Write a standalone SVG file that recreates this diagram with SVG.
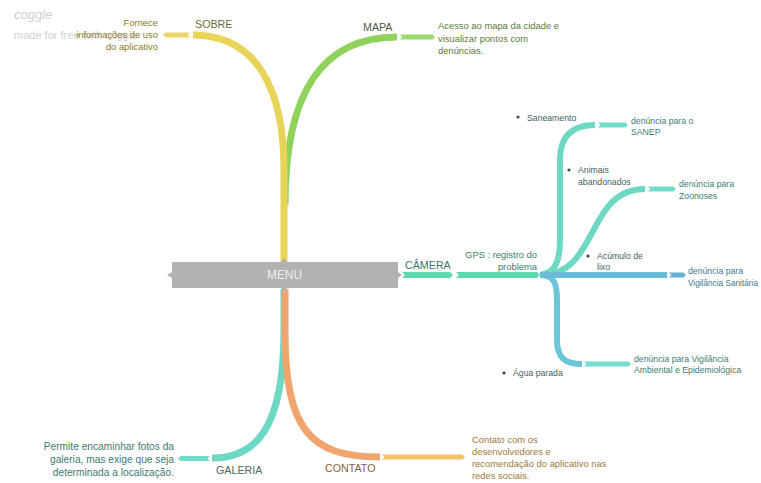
<svg xmlns="http://www.w3.org/2000/svg" width="761" height="483" viewBox="0 0 761 483">
<style>
  text { font-family: "Liberation Sans", Arial, sans-serif; }
  .t { font-size: 9.4px; }
  .s { font-size: 8.7px; }
  .lbl { font-size: 10.7px; }
  .br { fill: none; stroke-linecap: butt; stroke-linejoin: round; }
  .wm { fill: #cfcfcf; }
</style>
<rect width="761" height="483" fill="#ffffff"/>

<g id="watermark">
  <text x="14" y="19" class="wm" font-size="13" font-style="italic">coggle</text>
  <text x="14" y="39" class="wm" font-size="11">made for free with coggle</text>
</g>

<g id="connectors">
  <!-- MAPA -->
  <path class="br" d="M285,205 C285,92 322,37 397,37" stroke="#90d35c" stroke-width="7"/>
  <polygon points="400,34.5 432.5,34.5 435,37 432.5,39.5 400,39.5 402.5,37" fill="#9ad86a"/>
  <!-- SOBRE -->
  <path class="br" d="M284,262 L284,170 C284,88 256,35 193,35" stroke="#e8d459" stroke-width="7"/>
  <polygon points="190,32.5 165.5,32.5 163,35 165.5,37.5 190,37.5 187.5,35" fill="#ead66a"/>
  <!-- GALERIA -->
  <path class="br" d="M284,289 L284,330 C284,430 255,458 212,458" stroke="#6dd8c4" stroke-width="7"/>
  <polygon points="210,456 180.5,456 178,458.5 180.5,461 210,461 207.5,458.5" fill="#72dccb"/>
  <!-- CONTATO -->
  <path class="br" d="M285,289 L285,330 C285,430 310,457 380,457" stroke="#f0a46e" stroke-width="7"/>
  <polygon points="382,454.5 462.5,454.5 465,457 462.5,459.5 382,459.5 384.5,457" fill="#f2c266"/>
  <!-- CÂMERA -->
  <polygon points="402,272 450,272 453,275 450,278 402,278 405,275" fill="#5fd8b2"/>
  <polygon points="456,272 537,272 540,275 537,278 456,278 459,275" fill="#5fd8b2"/>
  <!-- Saneamento -->
  <path class="br" d="M540,275 C555,273 560,262 560,240 L560,160 C560,136 572,125 595,125" stroke="#6dd8c4" stroke-width="6"/>
  <polygon points="598,122.5 625.5,122.5 628,125 625.5,127.5 598,127.5 600.5,125" fill="#72dccb"/>
  <!-- Zoonoses -->
  <path class="br" d="M540,275 C600,275 585,189 645,189" stroke="#6dd8c4" stroke-width="6"/>
  <polygon points="648,186.5 673.5,186.5 676,189 673.5,191.5 648,191.5 650.5,189" fill="#72dccb"/>
  <!-- Ambiental -->
  <path class="br" d="M540,275 C555,275 557,285 557,300 L557,340 C557,358 565,364 582,364" stroke="#6cc6d8" stroke-width="6"/>
  <polygon points="584,361.5 628.5,361.5 631,364 628.5,366.5 584,366.5 586.5,364" fill="#74dcd2"/>
  <!-- Vigilância Sanitária -->
  <path class="br" d="M540,275 L667,275" stroke="#6bbad6" stroke-width="6"/>
  <polygon points="669,272.5 683.5,272.5 686,275 683.5,277.5 669,277.5 671.5,275" fill="#64b0d2"/>
</g>

<g id="menu">
  <path d="M172,262 L281,262 L284,258 L287,262 L398,262 L398,272 L402,275 L398,278 L398,288 L287,288 L284,292 L281,288 L172,288 L172,278 L167,275 L172,272 Z" fill="#b2b2b2"/>
  <text x="284.5" y="279" font-size="11.9" fill="#eeeeee" text-anchor="middle">MENU</text>
</g>

<g id="sobre">
  <text x="195" y="28" class="lbl" fill="#6f6a38">SOBRE</text>
  <text class="t" fill="#8a7a28" text-anchor="end"><tspan x="158" y="26">Fornece</tspan><tspan x="158" y="38">informações de uso</tspan><tspan x="158" y="50">do aplicativo</tspan></text>
</g>

<g id="mapa">
  <text x="363" y="31" class="lbl" fill="#4e5a44">MAPA</text>
  <text class="t" fill="#5a7a3c"><tspan x="438" y="29">Acesso ao mapa da cidade e</tspan><tspan x="438" y="41.5">visualizar pontos com</tspan><tspan x="438" y="54">denúncias.</tspan></text>
</g>

<g id="camera">
  <text x="405" y="269" class="lbl" fill="#3a7566">CÂMERA</text>
</g>

<g id="gps">
  <text class="t" fill="#3b7d68" text-anchor="end"><tspan x="537" y="258">GPS : registro do</tspan><tspan x="537" y="270">problema</tspan></text>
</g>

<g id="saneamento">
  <circle cx="518" cy="117" r="1.6" fill="#2f4f4f"/>
  <text x="527" y="120.5" class="s" fill="#3f5f63">Saneamento</text>
  <text class="s" fill="#3b7d72"><tspan x="631" y="124">denúncia para o</tspan><tspan x="631" y="135">SANEP</tspan></text>
</g>

<g id="zoonoses">
  <circle cx="569" cy="170" r="1.6" fill="#2f4f4f"/>
  <text class="s" fill="#3f5f63"><tspan x="578" y="173">Animais</tspan><tspan x="578" y="185">abandonados</tspan></text>
  <text class="s" fill="#3b7d72"><tspan x="679" y="187">denúncia para</tspan><tspan x="679" y="199">Zoonoses</tspan></text>
</g>

<g id="sanitaria">
  <circle cx="588" cy="256" r="1.6" fill="#2f4f4f"/>
  <text class="s" fill="#3f5f63"><tspan x="597" y="259">Acúmulo de</tspan><tspan x="597" y="270">lixo</tspan></text>
  <text class="s" fill="#3b7890"><tspan x="688" y="274">denúncia para</tspan><tspan x="688" y="286" textLength="70" lengthAdjust="spacingAndGlyphs">Vigilância Sanitária</tspan></text>
</g>

<g id="ambiental">
  <circle cx="504" cy="373" r="1.6" fill="#2f4f4f"/>
  <text x="513" y="376" class="s" fill="#3f5f63">Água parada</text>
  <text class="s" fill="#3b7d72"><tspan x="634" y="362">denúncia para Vigilância</tspan><tspan x="634" y="373">Ambiental e Epidemiológica</tspan></text>
</g>

<g id="galeria">
  <text x="216" y="474" class="lbl" fill="#4f6868">GALERIA</text>
  <text font-size="10.2" fill="#3d7a72" text-anchor="end"><tspan x="174" y="450">Permite encaminhar fotos da</tspan><tspan x="174" y="463">galeria, mas exige que seja</tspan><tspan x="174" y="476">determinada a localização.</tspan></text>
</g>

<g id="contato">
  <text x="325" y="472" class="lbl" fill="#8a5f3f">CONTATO</text>
  <text class="t" fill="#9c7a3e"><tspan x="472" y="443">Contato com os</tspan><tspan x="472" y="455">desenvolvedores e</tspan><tspan x="472" y="467">recomendação do aplicativo nas</tspan><tspan x="472" y="479">redes sociais.</tspan></text>
</g>
</svg>
